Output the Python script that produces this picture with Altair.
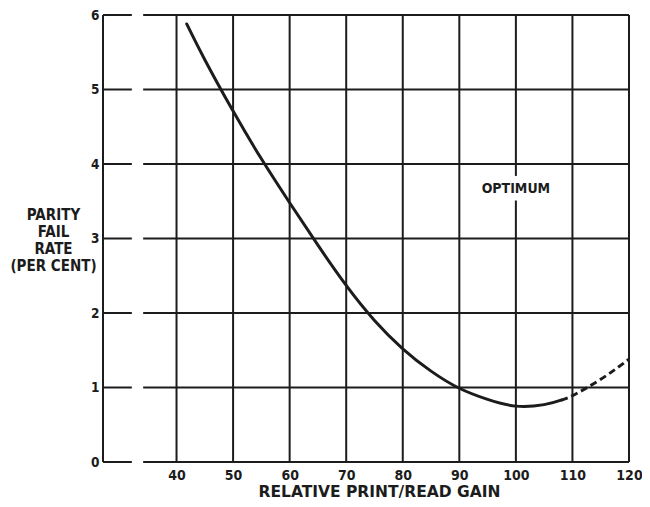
import altair as alt
import pandas as pd

# ---- data ----
curve_x = [41.8, 45, 50, 55, 60, 65, 70, 75, 80, 85, 90, 95, 100, 105, 108]
curve_y = [5.88, 5.40, 4.71, 4.07, 3.48, 2.91, 2.37, 1.90, 1.52, 1.22, 0.99, 0.84, 0.75, 0.77, 0.83]
dash_x = [108, 110, 115, 120]
dash_y = [0.83, 0.89, 1.11, 1.38]

x_ticks = [40, 50, 60, 70, 80, 90, 100, 110, 120]
y_ticks = [0, 1, 2, 3, 4, 5, 6]
x_min, x_max = 27, 120
y_min, y_max = 0, 6
grid_gap_x = [32.1, 34.1]          # break in the horizontal rulings
optimum_x = 100
optimum_gap_y = [3.51, 3.84]       # break in the 100 line around the label
optimum_label_y = 3.67
optimum_label = "OPTIMUM"

y_title = ["PARITY", "FAIL", "RATE", "(PER CENT)"]
x_title = "RELATIVE PRINT/READ GAIN"

FONT = "DejaVu Sans Condensed, DejaVu Sans, sans-serif"
WIDE = "DejaVu Sans, sans-serif"
INK = "#1c1c1c"

# ---- tables built from the arrays ----
curve_df = pd.DataFrame({"x": curve_x, "y": curve_y})
dash_df = pd.DataFrame({"x": dash_x, "y": dash_y})

hrows = []
for yv in y_ticks:
    hrows.append({"x": x_min, "x2": grid_gap_x[0], "y": yv})
    hrows.append({"x": grid_gap_x[1], "x2": x_max, "y": yv})
h_df = pd.DataFrame(hrows)

vrows = [{"x": x_min, "y": y_min, "y2": y_max}]
for xv in x_ticks:
    if xv == optimum_x:
        vrows.append({"x": xv, "y": y_min, "y2": optimum_gap_y[0]})
        vrows.append({"x": xv, "y": optimum_gap_y[1], "y2": y_max})
    else:
        vrows.append({"x": xv, "y": y_min, "y2": y_max})
v_df = pd.DataFrame(vrows)

label_df = pd.DataFrame({"x": [optimum_x], "y": [optimum_label_y], "t": [optimum_label]})

# ---- scales / axes ----
xs = alt.Scale(domain=[x_min, x_max], nice=False, zero=False)
ys = alt.Scale(domain=[y_min, y_max], nice=False, zero=True)

x_axis = alt.Axis(
    values=x_ticks, grid=False, domain=False, ticks=False, labelFlush=False,
    labelPadding=6, labelFont=FONT, labelFontSize=14, labelFontWeight="bold",
    labelColor=INK, title=x_title, titleFont=WIDE, titleFontSize=15.5,
    titleFontWeight="bold", titleColor=INK, titleX=276, titleY=34,
    titleAlign="center", titleBaseline="alphabetic",
)
y_axis = alt.Axis(
    values=y_ticks, grid=False, domain=False, ticks=False, labelFlush=False,
    labelPadding=4, labelFont=FONT, labelFontSize=13.5, labelFontWeight="bold",
    labelColor=INK, title=y_title, titleFont=FONT, titleFontSize=15,
    titleFontWeight="bold", titleColor=INK, titleAngle=0, titleX=-50,
    titleY=192, titleAlign="center", titleBaseline="top", titleLineHeight=17,
)

X = alt.X("x:Q", scale=xs, axis=x_axis)
Y = alt.Y("y:Q", scale=ys, axis=y_axis)

hlines = alt.Chart(h_df).mark_rule(color=INK, strokeWidth=2).encode(
    x=X, x2="x2:Q", y=Y
)
vlines = alt.Chart(v_df).mark_rule(color=INK, strokeWidth=2).encode(
    x=X, y=Y, y2="y2:Q"
)
curve = alt.Chart(curve_df).mark_line(
    color=INK, strokeWidth=3, interpolate="natural", strokeCap="round"
).encode(x=X, y=Y)
dashed = alt.Chart(dash_df).mark_line(
    color=INK, strokeWidth=3, interpolate="natural", strokeDash=[7, 4]
).encode(x=X, y=Y)
label = alt.Chart(label_df).mark_text(
    font=FONT, fontSize=14, fontWeight="bold", color=INK,
    align="center", baseline="middle",
).encode(x=X, y=Y, text="t:N")

chart = alt.layer(hlines, vlines, curve, dashed, label).properties(
    width=526, height=447,
    autosize=alt.AutoSizeParams(type="none"),
    padding={"left": 95, "top": 7, "right": 13, "bottom": 37},
    background="white",
).configure_view(stroke=None)

chart.save("out.html", embed_options={"renderer": "svg", "actions": False})
